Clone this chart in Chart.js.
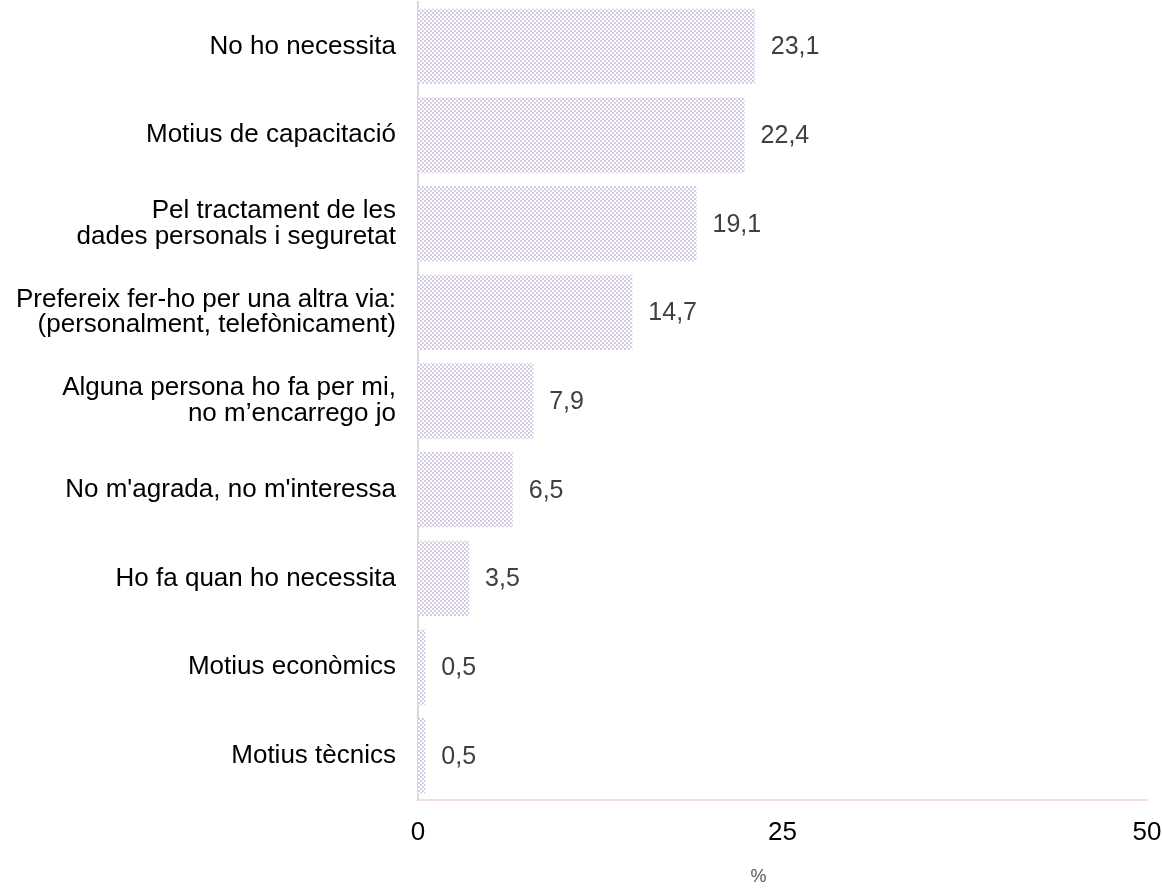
<!DOCTYPE html>
<html>
<head>
<meta charset="utf-8">
<script src="https://cdn.jsdelivr.net/npm/chart.js@4.4.0/dist/chart.umd.min.js"></script>
<style>
  html, body { margin: 0; padding: 0; background: #fff; }
  #wrap { width: 1162px; height: 888px; position: relative; }
</style>
</head>
<body>
<div id="wrap"><canvas id="chart"></canvas></div>
<script>
const categories = [
    'No ho necessita',
    'Motius de capacitació',
    ['Pel tractament de les', 'dades personals i seguretat'],
    ['Prefereix fer-ho per una altra via:', '(personalment, telefònicament)'],
    ['Alguna persona ho fa per mi,', 'no m\u2019encarrego jo'],
    "No m'agrada, no m'interessa",
    'Ho fa quan ho necessita',
    'Motius econòmics',
    'Motius tècnics'
];
const values = [23.1, 22.4, 19.1, 14.7, 7.9, 6.5, 3.5, 0.5, 0.5];
const xTicks = [0, 25, 50];
const xTitle = '%';

const FONT = '"Liberation Sans", Arial, sans-serif';

// checker pattern fill for the bars
function makePattern() {
    const c = document.createElement('canvas');
    c.width = 4; c.height = 4;
    const g = c.getContext('2d');
    g.fillStyle = '#ffffff';
    g.fillRect(0, 0, 4, 4);
    g.fillStyle = '#d1c6e0';
    g.fillRect(0, 0, 2, 2);
    g.fillRect(2, 2, 2, 2);
    g.fillStyle = '#e4dced';
    g.fillRect(1, 1, 1, 1);
    g.fillRect(3, 3, 1, 1);
    return g.createPattern(c, 'repeat');
}

// value labels at the bar ends + axis title (sits a bit left of centre)
const valueLabels = {
    id: 'valueLabels',
    afterDatasetsDraw(chart) {
        const ctx = chart.ctx;
        const meta = chart.getDatasetMeta(0);
        ctx.save();
        ctx.font = '25px ' + FONT;
        ctx.fillStyle = '#404040';
        ctx.textAlign = 'left';
        ctx.textBaseline = 'middle';
        meta.data.forEach((bar, i) => {
            const txt = values[i].toFixed(1).replace('.', ',');
            ctx.fillText(txt, bar.x + 16, bar.y + 1);
        });
        const area = chart.chartArea;
        ctx.font = '18px ' + FONT;
        ctx.fillStyle = '#595959';
        ctx.textAlign = 'center';
        ctx.fillText(xTitle, (area.left + area.right) / 2 - 24, 877);
        ctx.restore();
    }
};

const ctx = document.getElementById('chart').getContext('2d');
new Chart(ctx, {
    type: 'bar',
    data: {
        labels: categories,
        datasets: [{
            data: values,
            backgroundColor: makePattern(),
            borderWidth: 0,
            barPercentage: 0.85,
            categoryPercentage: 1.0
        }]
    },
    options: {
        indexAxis: 'y',
        responsive: true,
        maintainAspectRatio: false,
        animation: false,
        layout: { padding: { top: 2, right: 15, bottom: 0, left: 0 } },
        plugins: {
            legend: { display: false },
            tooltip: { enabled: false }
        },
        scales: {
            x: {
                min: 0,
                max: 50,
                afterBuildTicks: (scale) => { scale.ticks = xTicks.map(v => ({ value: v })); },
                afterFit: (scale) => {
                    scale.height = 88;
                    scale.paddingLeft = 0;
                    scale.paddingRight = 0;
                },
                grid: { display: false, drawTicks: false },
                border: { display: true, color: '#f0dde2', width: 2 },
                ticks: {
                    color: '#000',
                    padding: 17,
                    maxRotation: 0,
                    font: { family: FONT, size: 26 }
                }
            },
            y: {
                afterFit: (scale) => {
                    scale.width = 418;
                    scale.paddingTop = 0;
                    scale.paddingBottom = 0;
                },
                grid: { display: false, drawTicks: false },
                border: { display: true, color: '#d9d9d9', width: 2 },
                ticks: {
                    color: '#000',
                    padding: 22,
                    font: { family: FONT, size: 26, lineHeight: 0.98 }
                }
            }
        }
    },
    plugins: [valueLabels]
});
</script>
</body>
</html>
